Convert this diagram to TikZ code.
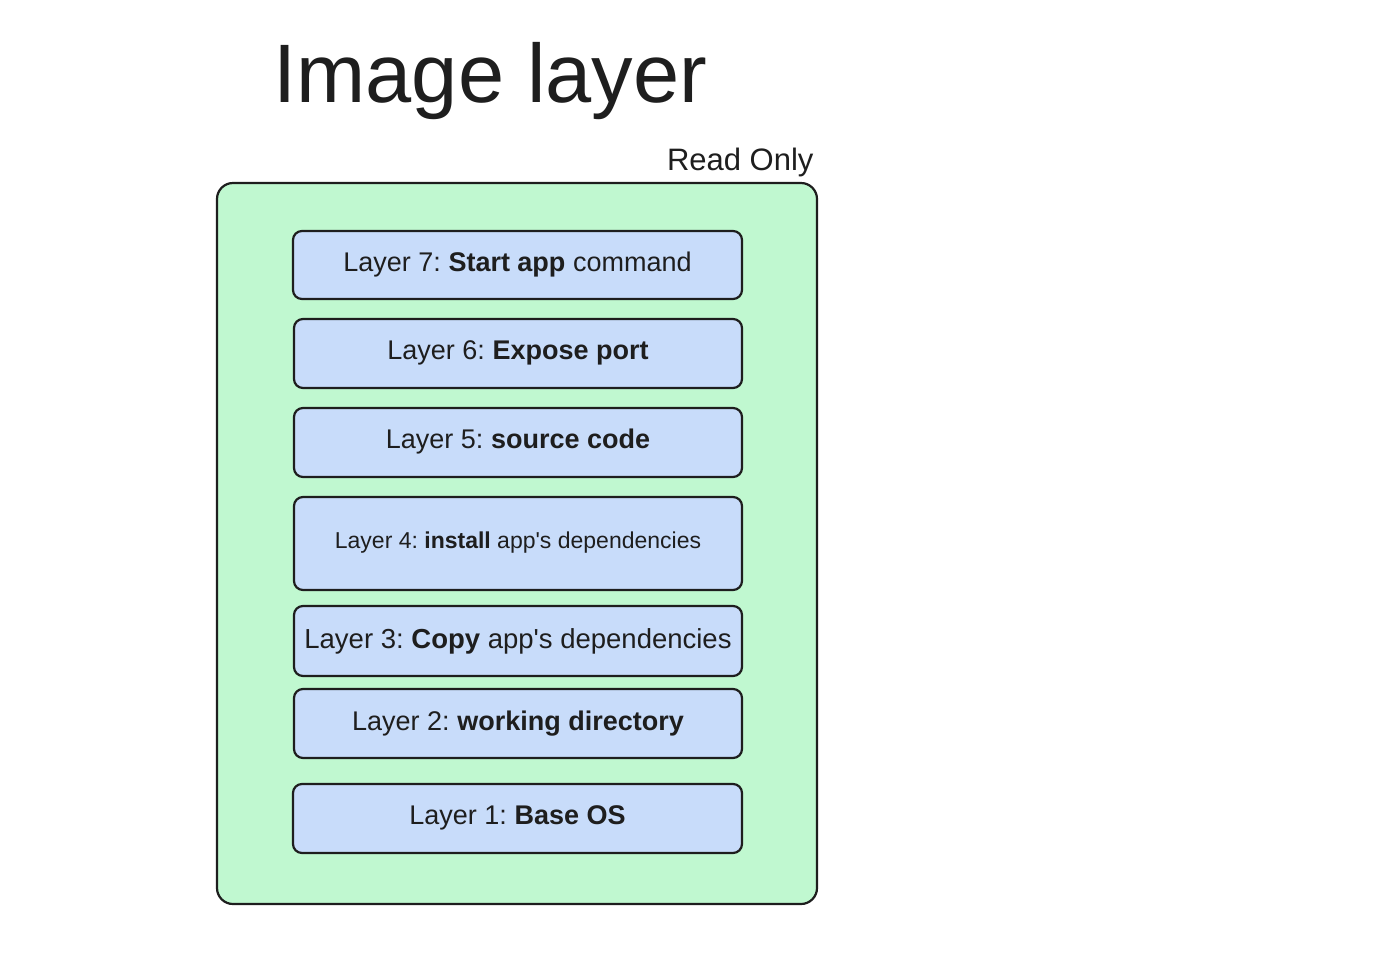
\documentclass[tikz,border=0pt]{standalone}
\usepackage{fontspec}
\setmainfont{Liberation Sans}[Ligatures=TeXOff]
\definecolor{mint}{RGB}{192,248,208}
\definecolor{layerblue}{RGB}{200,220,250}
\definecolor{ink}{RGB}{30,30,30}
\frenchspacing
\begin{document}
\begin{tikzpicture}[x=1pt,y=-1pt,
  outerbox/.style={draw=ink,line width=2.2pt,fill=mint,rounded corners=16pt},
  layerbox/.style={draw=ink,line width=2.2pt,fill=layerblue,rounded corners=9pt},
  ltext/.style={text=ink,font=\fontsize{27}{32}\selectfont},
  stext/.style={text=ink,font=\fontsize{23}{27}\selectfont}]
\useasboundingbox (0,0) rectangle (1400,962);
\node[text=ink,font=\fontsize{83}{97}\selectfont,anchor=base west] (title) at (270,102) {Image layer};
\node[text=ink,font=\fontsize{31}{36}\selectfont,anchor=base east] (ro) at (817,170) {Read Only};
\draw[outerbox] (217,183) rectangle (817,904);
\coordinate (outer) at (517,543);
\draw[layerbox] (293,231) rectangle (742,299);
\node[ltext] (l7) at (517.5,265) {Layer 7: \textbf{Start app} command};
\draw[layerbox] (294,319) rectangle (742,388);
\node[ltext] (l6) at (518,353) {Layer 6: \textbf{Expose port}};
\draw[layerbox] (294,408) rectangle (742,477);
\node[ltext] (l5) at (518,442) {Layer 5: \textbf{source code}};
\draw[layerbox] (294,497) rectangle (742,590);
\node[stext] (l4) at (518,543) {Layer 4: \textbf{install} app's dependencies};
\draw[layerbox] (294,606) rectangle (742,676);
\node[ltext,font=\fontsize{27.5}{32}\selectfont] (l3) at (518,641) {Layer 3: \textbf{Copy} app's dependencies};
\draw[layerbox] (294,689) rectangle (742,758);
\node[ltext] (l2) at (518,724) {Layer 2: \textbf{working directory}};
\draw[layerbox] (293,784) rectangle (742,853);
\node[ltext] (l1) at (517.5,818) {Layer 1: \textbf{Base OS}};
\end{tikzpicture}
\end{document}
